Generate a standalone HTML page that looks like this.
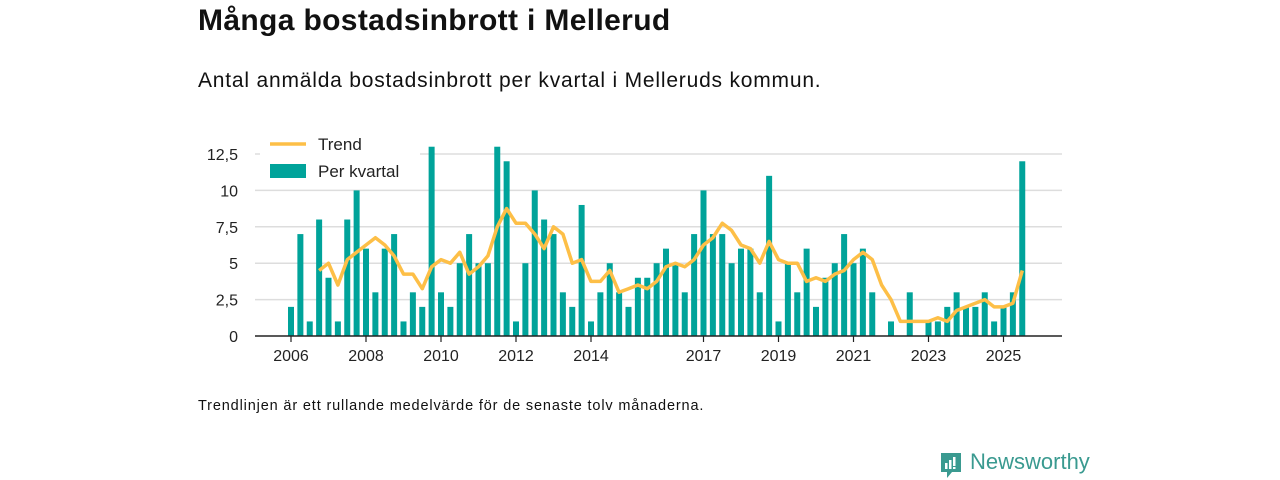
<!DOCTYPE html>
<html><head><meta charset="utf-8">
<style>
body{margin:0;background:#fff;font-family:"Liberation Sans",sans-serif;color:#111;}
#wrap{position:relative;width:1280px;height:480px;overflow:hidden;}
.t{position:absolute;white-space:nowrap;}
</style></head><body>
<div id="wrap">
<div class="t" style="left:198px;top:4px;font-size:30px;font-weight:bold;letter-spacing:0.35px;">Många bostadsinbrott i Mellerud</div>
<div class="t" style="left:198px;top:69px;font-size:21px;letter-spacing:0.8px;">Antal anmälda bostadsinbrott per kvartal i Melleruds kommun.</div>
<svg id="chart" width="1280" height="480" style="position:absolute;left:0;top:0"></svg>
<div class="t" style="left:198px;top:398px;font-size:14.5px;letter-spacing:0.85px;">Trendlinjen är ett rullande medelvärde för de senaste tolv månaderna.</div>
<div style="position:absolute;left:940px;top:452px;">
<svg width="22" height="28" viewBox="0 0 22 28"><path d="M1 1h20v19H12l-5 6v-6H1z" fill="#3a9a90"/><rect x="5" y="11" width="2.5" height="6" fill="#fff"/><rect x="9" y="8" width="2.5" height="9" fill="#fff"/><rect x="13" y="5" width="2.5" height="9" fill="#fff"/><rect x="13" y="15" width="2.5" height="2" fill="#fff"/></svg>
<span class="t" style="left:30px;top:-3px;font-size:22px;color:#3a9a90;">Newsworthy</span>
</div>
</div>
<script>
const years=[2006,2007,2008,2009,2010,2011,2012,2013,2014,2015,2016,2017,2018,2019,2020,2021,2022,2023,2024,2025];
const barValues=[2,7,1,8, 4,1,8,10, 6,3,6,7, 1,3,2,13, 3,2,5,7, 5,5,13,12, 1,5,10,8, 7,3,2,9, 1,3,5,3, 2,4,4,5, 6,5,3,7, 10,7,7,5, 6,6,3,11, 1,5,3,6, 2,4,5,7, 5,6,3,0, 1,0,3,0, 1,1,2,3, 2,2,3,1, 2,3,12];
const trendValues=[null,null,null,4.5, 5,3.5,5.25,5.75, 6.25,6.75,6.25,5.5, 4.25,4.25,3.25,4.75, 5.25,5,5.75,4.25, 4.75,5.5,7.5,8.75, 7.75,7.75,7,6, 7.5,7,5,5.25, 3.75,3.75,4.5,3, 3.25,3.5,3.25,3.75, 4.75,5,4.75,5.25, 6.25,6.75,7.75,7.25, 6.25,6,5,6.5, 5.25,5,5,3.75, 4,3.75,4.25,4.5, 5.25,5.75,5.25,3.5, 2.5,1,1,1, 1,1.25,1,1.75, 2,2.25,2.5,2, 2,2.25,4.5];
const yTicks=[0,2.5,5,7.5,10,12.5];
const yTickLabels=["0","2,5","5","7,5","10","12,5"];
const xTickYears=[2006,2008,2010,2012,2014,2017,2019,2021,2023,2025];

const svg=document.getElementById('chart');
const NS='http://www.w3.org/2000/svg';
const x=t=>291+(t-2006)*37.5;
const y=v=>336-v*14.56;
function mk(tag,attrs,parent){const e=document.createElementNS(NS,tag);for(const k in attrs)e.setAttribute(k,attrs[k]);(parent||svg).appendChild(e);return e;}

yTicks.forEach((v,i)=>{
  if(v>0){const g=mk('line',{x1:255,x2:1062,y1:y(v),y2:y(v),stroke:'#ddd','stroke-width':1.5});
  
  }
  const t=mk('text',{x:238,y:y(v)+6,'text-anchor':'end','font-size':16,fill:'#222','font-family':'Liberation Sans'});
  t.textContent=yTickLabels[i];
  
  
});
barValues.forEach((v,i)=>{
  const t=2006+i/4;
  const r=mk('rect',{x:x(t)-3,y:y(v),width:6,height:v*14.56,fill:'#00a39a'});
  
  
});
const axis=mk('line',{x1:255,x2:1062,y1:336,y2:336,stroke:'#222','stroke-width':1.5});


xTickYears.forEach(yr=>{
  const tk=mk('line',{x1:x(yr),x2:x(yr),y1:336,y2:342,stroke:'#222','stroke-width':1.2});
  
  
  const t=mk('text',{x:x(yr),y:361,'text-anchor':'middle','font-size':16,fill:'#222','font-family':'Liberation Sans'});
  t.textContent=yr;
  
  
});
let d='';
trendValues.forEach((v,i)=>{if(v===null)return;d+=(d?'L':'M')+x(2006+i/4).toFixed(1)+','+y(v).toFixed(1);});
const line=mk('path',{d:d,fill:'none',stroke:'#fdbf47','stroke-width':3.5,'stroke-linejoin':'round'});



const lg=mk('rect',{x:260,y:132,width:160,height:54,fill:'#fff'});


const l1=mk('line',{x1:270,x2:306,y1:144,y2:144,stroke:'#fdbf47','stroke-width':3.5});


const t1=mk('text',{x:318,y:150,'font-size':17,fill:'#222','font-family':'Liberation Sans'});t1.textContent='Trend';


const s2=mk('rect',{x:270,y:164,width:36,height:14,fill:'#00a39a'});


const t2=mk('text',{x:318,y:177,'font-size':17,fill:'#222','font-family':'Liberation Sans'});t2.textContent='Per kvartal';


</script>
</body></html>
